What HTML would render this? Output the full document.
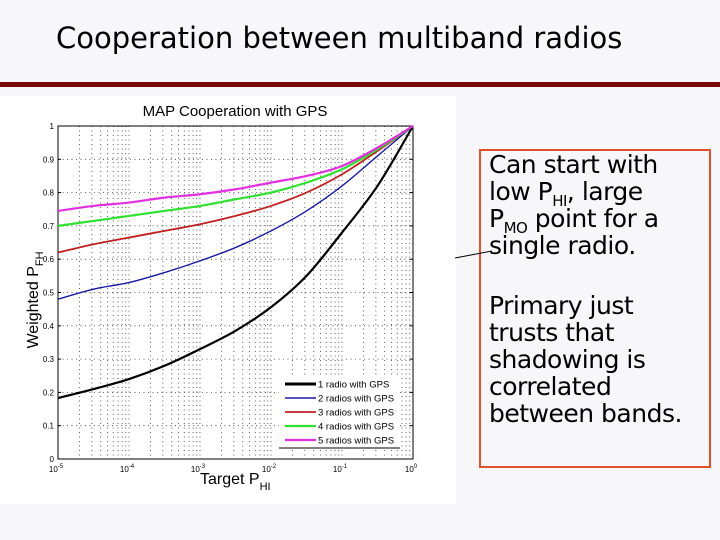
<!DOCTYPE html>
<html><head><meta charset="utf-8">
<style>
html,body{margin:0;padding:0;}
body{width:720px;height:540px;background:#f7f7fa;position:relative;overflow:hidden;font-family:"Liberation Sans",sans-serif;}
#title{position:absolute;left:56px;top:21px;font-family:"DejaVu Sans","Liberation Sans",sans-serif;font-size:29px;color:#000;letter-spacing:0px;}
#rule{position:absolute;left:0;top:82px;width:720px;height:5px;background:#7a0a0a;}
#chartbg{position:absolute;left:0;top:96px;width:456px;height:408px;background:#fff;}
#note{position:absolute;left:479px;top:149px;width:220px;height:315px;border:2px solid #e0502a;font-family:"DejaVu Sans","Liberation Sans",sans-serif;font-size:25px;line-height:27px;color:#000;padding:0 0 0 8px;box-sizing:content-box;white-space:nowrap;letter-spacing:-0.5px;}
#note p{margin:0;}
#note sub{font-size:15px;line-height:0;}
svg{position:absolute;left:0;top:0;}
</style></head><body>
<div id="title">Cooperation between multiband radios</div>
<div id="rule"></div>
<div id="chartbg"></div>
<div id="note">
<p>Can start with<br>low P<sub>HI</sub>, large<br>P<sub>MO</sub> point for a<br>single radio.</p>
<p style="margin-top:33px">Primary just<br>trusts that<br>shadowing is<br>correlated<br>between bands.</p>
</div>
<svg id="chart" width="720" height="540"></svg>
<script>
const xExp = [-5,-4.5,-4,-3.5,-3,-2.5,-2,-1.5,-1,-0.5,0];
const seriesNames = ["1 radio with GPS","2 radios with GPS","3 radios with GPS","4 radios with GPS","5 radios with GPS"];
const s1 = [0.183,0.21,0.24,0.28,0.33,0.385,0.456,0.55,0.68,0.82,1.0];
const s2 = [0.48,0.51,0.53,0.56,0.595,0.635,0.685,0.745,0.82,0.91,1.0];
const s3 = [0.62,0.645,0.665,0.685,0.705,0.73,0.76,0.80,0.855,0.925,1.0];
const s4 = [0.70,0.715,0.73,0.745,0.76,0.78,0.80,0.83,0.87,0.93,1.0];
const s5 = [0.745,0.76,0.77,0.785,0.795,0.81,0.83,0.85,0.88,0.935,1.0];
const yTicks = [0,0.1,0.2,0.3,0.4,0.5,0.6,0.7,0.8,0.9,1];
const xTickExp = [-5,-4,-3,-2,-1,0];

const colors = ["#000","#1a1aa0","#c02020","#30e030","#e030e0"];
const widths = [2.2,1.4,1.8,2.2,2.2];
const L=58,R=413,T=126,B=459;
const sx = e => L + (e+5)/5*(R-L);
const sy = v => B - v*(B-T);
const NS="http://www.w3.org/2000/svg";
const svg=document.getElementById('chart');
function mk(tag,attrs,parent){const e=document.createElementNS(NS,tag);for(const k in attrs)e.setAttribute(k,attrs[k]);(parent||svg).appendChild(e);return e;}

for(let d=-5; d<0; d++){
  for(let m=1;m<=9;m++){
    const e=d+Math.log10(m); if(e<=-5) continue;
    const x=sx(e);
    const g=mk('line',{x1:x,y1:T,x2:x,y2:B,stroke:'#333','stroke-width':0.8,'stroke-dasharray':'1,3.5'});
    
    
  }
}
yTicks.forEach(v=>{
  if(v===0||v===1) return;
  const g=mk('line',{x1:L,y1:sy(v),x2:R,y2:sy(v),stroke:'#333','stroke-width':0.8,'stroke-dasharray':'1,3.5'});
  
  
});
const box=mk('rect',{x:L,y:T,width:R-L,height:B-T,fill:'none',stroke:'#000','stroke-width':1});



yTicks.forEach(v=>{
  const t=mk('text',{x:L-4,y:sy(v)+3,'font-size':8,'text-anchor':'end',fill:'#000'});
  t.textContent=String(v);
  
  
  mk('line',{x1:L,y1:sy(v),x2:L+3,y2:sy(v),stroke:'#000'});
  mk('line',{x1:R,y1:sy(v),x2:R-3,y2:sy(v),stroke:'#000'});
});
xTickExp.forEach(e=>{
  const t=mk('text',{x:sx(e)-2,y:B+13,'font-size':8,'text-anchor':'middle',fill:'#000'});
  t.textContent='10';
  const sp=mk('tspan',{dy:-4,'font-size':6});sp.textContent=String(e);t.appendChild(sp);
  
  
});

function smooth(pts){
  let d='M'+pts[0][0]+','+pts[0][1];
  for(let i=0;i<pts.length-1;i++){
    const p0=pts[Math.max(0,i-1)],p1=pts[i],p2=pts[i+1],p3=pts[Math.min(pts.length-1,i+2)];
    const c1=[p1[0]+(p2[0]-p0[0])/6,p1[1]+(p2[1]-p0[1])/6];
    const c2=[p2[0]-(p3[0]-p1[0])/6,p2[1]-(p3[1]-p1[1])/6];
    d+=' C'+c1+' '+c2+' '+p2;
  }
  return d;
}
[s1,s2,s3,s4,s5].forEach((s,i)=>{
  const pts=s.map((v,j)=>[sx(xExp[j]),sy(v)]);
  const p=mk('path',{d:smooth(pts),fill:'none',stroke:colors[i],'stroke-width':widths[i]});
  
  
});

const lg=mk('g',{});


mk('rect',{x:279,y:376,width:121,height:72,fill:'#fff'},lg);
mk('line',{x1:279,y1:448,x2:400,y2:448,stroke:'#000','stroke-width':1},lg);
seriesNames.forEach((n,i)=>{
  const y=384+i*14;
  mk('line',{x1:285,y1:y,x2:316,y2:y,stroke:colors[i],'stroke-width':i===0?3:widths[i]},lg);
  const t=mk('text',{x:318,y:y+3.5,'font-size':9.5,fill:'#000'},lg);
  t.textContent=n;
  
  
});

const title=mk('text',{x:235,y:116,'font-size':15,'text-anchor':'middle',fill:'#000'});
title.textContent='MAP Cooperation with GPS';



const yl=mk('text',{x:0,y:0,'font-size':16,'text-anchor':'middle',fill:'#000',transform:'translate(38,300) rotate(-90)'});
yl.textContent='Weighted P';
const ys=mk('tspan',{dy:5,'font-size':11});ys.textContent='FH';yl.appendChild(ys);



const xl=mk('text',{x:200,y:484,'font-size':16,fill:'#000'});
xl.textContent='Target P';
const xs=mk('tspan',{dy:6,'font-size':11});xs.textContent='HI';xl.appendChild(xs);



const arrow=mk('line',{x1:455,y1:258,x2:492,y2:251,stroke:'#000','stroke-width':1});


</script>
</body></html>
